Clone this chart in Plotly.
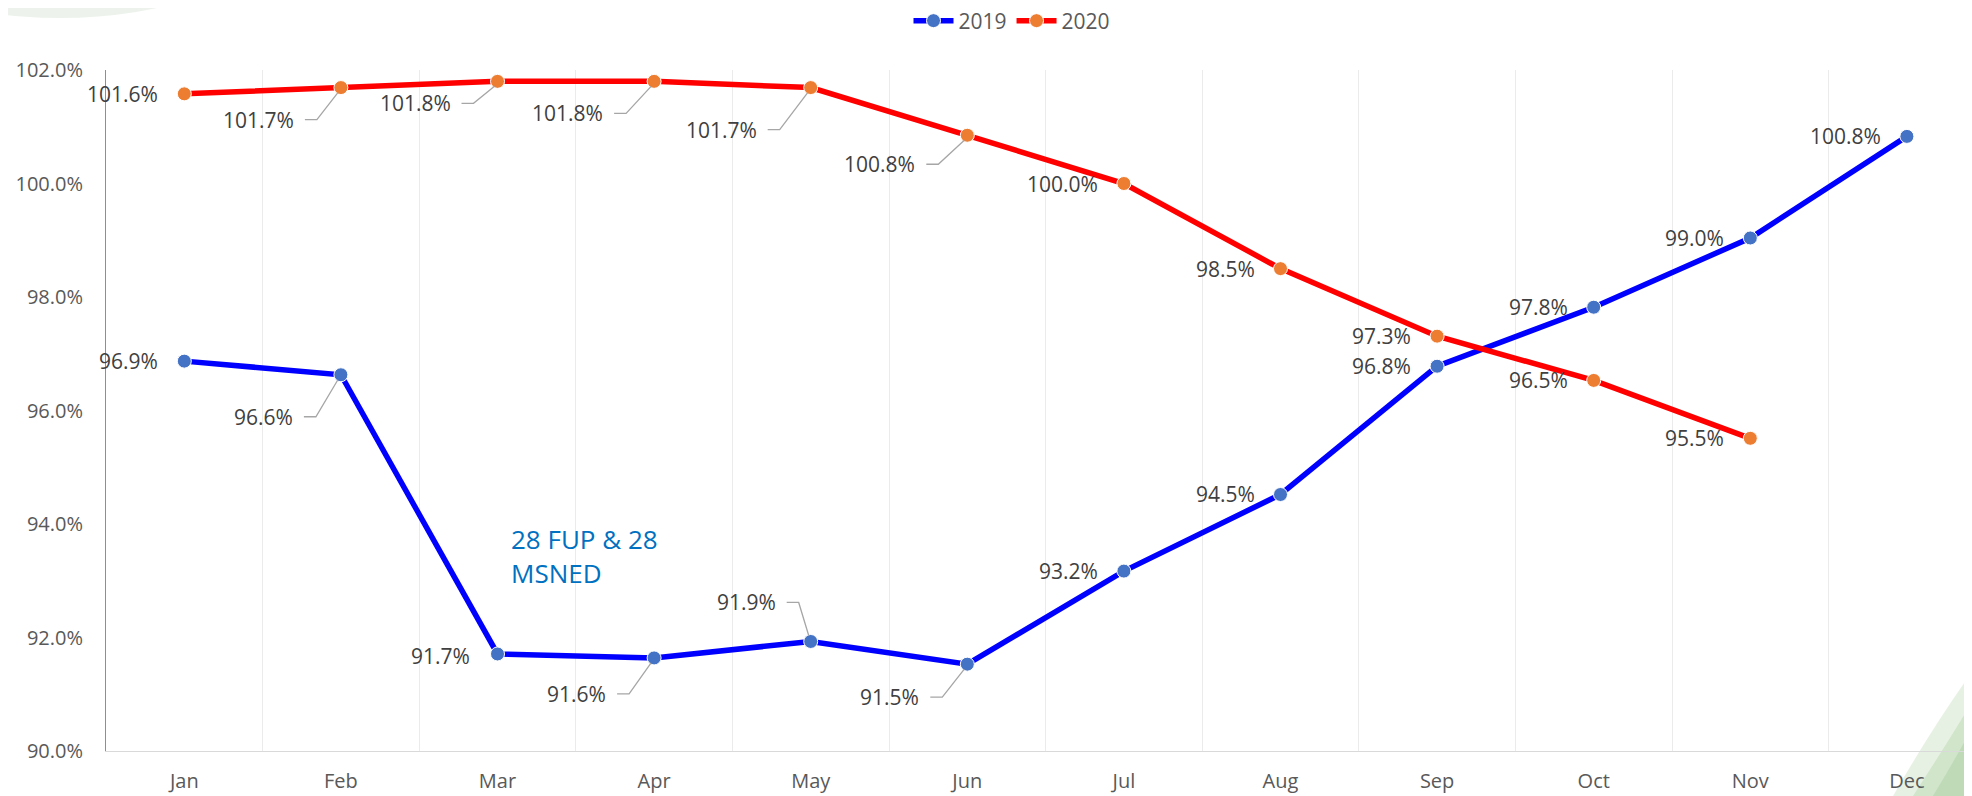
import plotly.graph_objects as go

# ---------------- data ----------------
months = ["Jan", "Feb", "Mar", "Apr", "May", "Jun", "Jul", "Aug", "Sep", "Oct", "Nov", "Dec"]
vals_2019 = [96.87, 96.63, 91.71, 91.64, 91.93, 91.53, 93.17, 94.52, 96.78, 97.82, 99.04, 100.83]
vals_2020 = [101.58, 101.69, 101.80, 101.80, 101.69, 100.85, 100.00, 98.50, 97.31, 96.53, 95.51]
y_ticks = [90, 92, 94, 96, 98, 100, 102]
y_tick_text = [f"{v:.1f}%" for v in y_ticks]
note_text = "28 FUP & 28<br>MSNED"

# ---------------- style ----------------
OFF = 8                      # page body margin in the browser
SW, SH = 1972, 796           # screen size
W, H = SW - OFF, SH - OFF    # figure size
PL, PT, PB = 106, 70, 751    # plot area edges in screen px (right edge = screen edge)
ML, MR, MT, MB = PL - OFF, 0, PT - OFF, SH - PB
FONT = "Open Sans"
CAT_W = 156.6
x_hi = -0.5 + (SW - PL) / CAT_W

# data-label placement (px): offset of text right edge, downward offset, leader line?
lab_2019 = [(-24, 0, False), (-46, 42, True), (-26, 2, False), (-46, 36, True),
            (-33, -39, True), (-46, 33, True), (-24, 0, False), (-24, 0, False),
            (-24, 0, False), (-24, 0, False), (-24, 0, False), (-24, 0, False)]
lab_2020 = [(-24, 0, False), (-45, 32, True), (-45, 22, True), (-49, 32, True),
            (-52, 42, True), (-50, 29, True), (-24, 0, False), (-24, 0, False),
            (-24, 0, False), (-24, 0, False), (-24, 0, False)]

series = [
    ("2019", vals_2019, "#0000FF", "#4472C4", lab_2019),
    ("2020", vals_2020, "#FF0000", "#ED7D31", lab_2020),
]

fig = go.Figure()
annotations = []
shapes = []

for name, vals, lcol, mcol, labs in series:
    xs = months[:len(vals)]
    fig.add_trace(go.Scatter(
        x=xs, y=vals, name=name, mode="lines+markers",
        line=dict(color=lcol, width=5.5),
        marker=dict(color=mcol, size=14, line=dict(color="white", width=1)),
    ))
    for m, v, (dx, dy, leader) in zip(xs, vals, labs):
        annotations.append(dict(
            x=m, y=v, xref="x", yref="y", text=f"{v:.1f}%", showarrow=False,
            xanchor="right", yanchor="middle", xshift=dx, yshift=-dy,
            font=dict(family=FONT, size=21, color="#404040"),
        ))
        if leader:
            ey = -5 if dy > 0 else 6
            ex = -3 if dy > 0 else -2
            shapes.append(dict(
                type="path", xref="x", yref="y", xsizemode="pixel", ysizemode="pixel",
                xanchor=m, yanchor=v,
                path=f"M{dx + 9},{-dy} L{dx + 21},{-dy} L{ex},{ey}",
                line=dict(color="#A6A6A6", width=1.3), layer="above",
            ))


# screen pixel -> paper helpers (for decorations / free text)
def px(xp):
    return (xp - PL) / (SW - PL)


def py(yp):
    return (PB - yp) / (PB - PT)


annotations.append(dict(
    x=px(509), y=py(556), xref="paper", yref="paper",
    text=note_text, showarrow=False, xanchor="left", yanchor="middle", align="left",
    font=dict(family=FONT, size=26, color="#0070C0"),
))

shapes.append(dict(type="circle", xref="paper", yref="paper",
                   x0=px(60 - 390), x1=px(60 + 390), y0=py(-300 - 318), y1=py(-300 + 318),
                   fillcolor="#EDF3EC", line=dict(width=0), layer="below"))

bands = [
    ((1893, 796), (1932, 728), (1972, 672), "rgba(215,232,208,0.6)"),
    ((1913, 796), (1948, 742), (1972, 702), "rgba(190,218,180,0.55)"),
    ((1933, 796), (1956, 758), (1972, 728), "rgba(175,210,165,0.55)"),
]
for (x0, y0), (cx, cy), (x1, y1), col in bands:
    path = (f"M{px(x0)},{py(y0)} Q{px(cx)},{py(cy)} {px(x1)},{py(y1)} "
            f"L{px(1972)},{py(796)} Z")
    shapes.append(dict(type="path", xref="paper", yref="paper", path=path,
                       fillcolor=col, line=dict(width=0), layer="below"))

fig.update_layout(
    width=W, height=H,
    margin=dict(l=ML, r=MR, t=MT, b=MB, autoexpand=False),
    paper_bgcolor="white", plot_bgcolor="white",
    font=dict(family=FONT, size=20, color="#595959"),
    showlegend=True,
    legend=dict(orientation="h", x=px(1012), xanchor="center", y=py(21), yanchor="middle",
                font=dict(family=FONT, size=21, color="#595959"), bgcolor="rgba(0,0,0,0)",
                itemwidth=40),
    annotations=annotations,
    shapes=shapes,
    hovermode=False,
)

fig.update_xaxes(
    type="category", categoryorder="array", categoryarray=months,
    range=[-0.5, x_hi], tickson="boundaries", showgrid=True, gridcolor="#EBEBEB", gridwidth=1,
    showline=True, linecolor="#D9D9D9", linewidth=1, ticks="", ticklabelstandoff=12,
    tickfont=dict(family=FONT, size=20, color="#595959"), zeroline=False,
)
fig.update_yaxes(
    range=[90, 102], tickvals=y_ticks, ticktext=y_tick_text,
    showgrid=False, showline=True, linecolor="#70AD47", linewidth=1, ticks="",
    ticklabelstandoff=18, zeroline=False,
    tickfont=dict(family=FONT, size=20, color="#595959"),
)

fig.write_html("out.html")
